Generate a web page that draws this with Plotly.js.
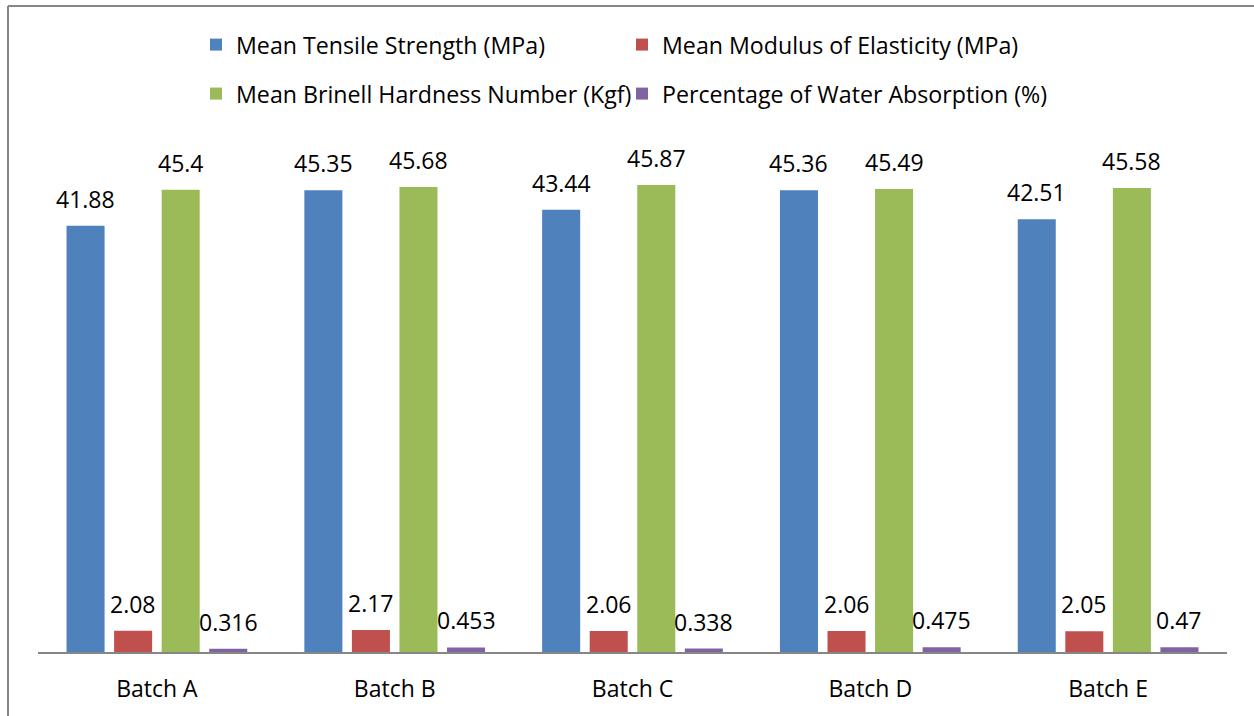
<!DOCTYPE html>
<html>
<head>
<meta charset="utf-8">
<script src="https://cdn.plot.ly/plotly-3.0.1.min.js"></script>
<style>html,body{margin:0;padding:0;background:#fff;}#chart{width:1254px;height:716px;}</style>
</head>
<body>
<div id="chart"></div>
<script>
const categories = ["Batch A", "Batch B", "Batch C", "Batch D", "Batch E"];
const seriesNames = [
  "Mean Tensile Strength (MPa)",
  "Mean Modulus of Elasticity (MPa)",
  "Mean Brinell Hardness Number (Kgf)",
  "Percentage of Water Absorption (%)"
];
const tensile = [41.88, 45.35, 43.44, 45.36, 42.51];
const modulus = [2.08, 2.17, 2.06, 2.06, 2.05];
const brinell = [45.4, 45.68, 45.87, 45.49, 45.58];
const water = [0.316, 0.453, 0.338, 0.475, 0.47];
const labelTexts = [
  ["41.88", "45.35", "43.44", "45.36", "42.51"],
  ["2.08", "2.17", "2.06", "2.06", "2.05"],
  ["45.4", "45.68", "45.87", "45.49", "45.58"],
  ["0.316", "0.453", "0.338", "0.475", "0.47"]
];
const colors = ["#4F81BD", "#C0504D", "#9BBB59", "#8064A2"];
const legendIds = ["legend", "legend2", "legend3", "legend4"];
const values = [tensile, modulus, brinell, water];

const FONT = "Open Sans, Liberation Sans, Arial, sans-serif";
const W = 1254, H = 716;
const M = {l: 38, r: 27, t: 143, b: 64};
const plotW = W - M.l - M.r, plotH = H - M.t - M.b;
const bargap = 0.2, bargroupgap = 0.2;
const slotPx = plotW / categories.length * (1 - bargap) / values.length;

const traces = values.map((v, i) => ({
  type: "bar",
  name: seriesNames[i],
  x: categories,
  y: v,
  marker: {color: colors[i]},
  legend: legendIds[i],
  hoverinfo: "skip"
}));

const annotations = [];
values.forEach((v, i) => {
  v.forEach((val, j) => {
    annotations.push({
      x: categories[j], y: val, xref: "x", yref: "y",
      text: labelTexts[i][j], showarrow: false,
      xanchor: "center", yanchor: "bottom",
      xshift: (i - (values.length - 1) / 2) * slotPx,
      yshift: 9,
      font: {family: FONT, size: 23, color: "#000"}
    });
  });
});

const px2x = p => (p - M.l) / plotW;
const py2y = p => (H - M.b - p) / plotH;

const legendFont = {family: FONT, size: 23.2, color: "#000"};
const legendPos = [[196, 45], [622, 45], [196, 94], [622, 94]];
const layout = {
  width: W, height: H,
  margin: M,
  paper_bgcolor: "#fff", plot_bgcolor: "#fff",
  font: {family: FONT, size: 23, color: "#000"},
  barmode: "group", bargap: bargap, bargroupgap: bargroupgap,
  showlegend: true,
  xaxis: {type: "category", showline: true, linecolor: "#868686", linewidth: 2,
          ticks: "", showgrid: false, zeroline: false, ticklabelstandoff: 15,
          tickfont: {family: FONT, size: 23, color: "#000"}, fixedrange: true},
  yaxis: {range: [0, 50], visible: false, showgrid: false, zeroline: false, fixedrange: true},
  annotations: annotations,
  shapes: [
    {type: "line", xref: "paper", yref: "paper", x0: px2x(8), x1: px2x(1260), y0: py2y(6), y1: py2y(6),
     line: {color: "#868686", width: 2}},
    {type: "line", xref: "paper", yref: "paper", x0: px2x(8), x1: px2x(8), y0: py2y(6), y1: py2y(720),
     line: {color: "#868686", width: 2}}
  ]
};
legendIds.forEach((id, i) => {
  layout[id] = {orientation: "h", x: px2x(legendPos[i][0]), y: py2y(legendPos[i][1]),
                xanchor: "left", yanchor: "middle", font: legendFont,
                bgcolor: "rgba(0,0,0,0)"};
});

Plotly.newPlot("chart", traces, layout, {displayModeBar: false, staticPlot: true});
</script>
</body>
</html>
